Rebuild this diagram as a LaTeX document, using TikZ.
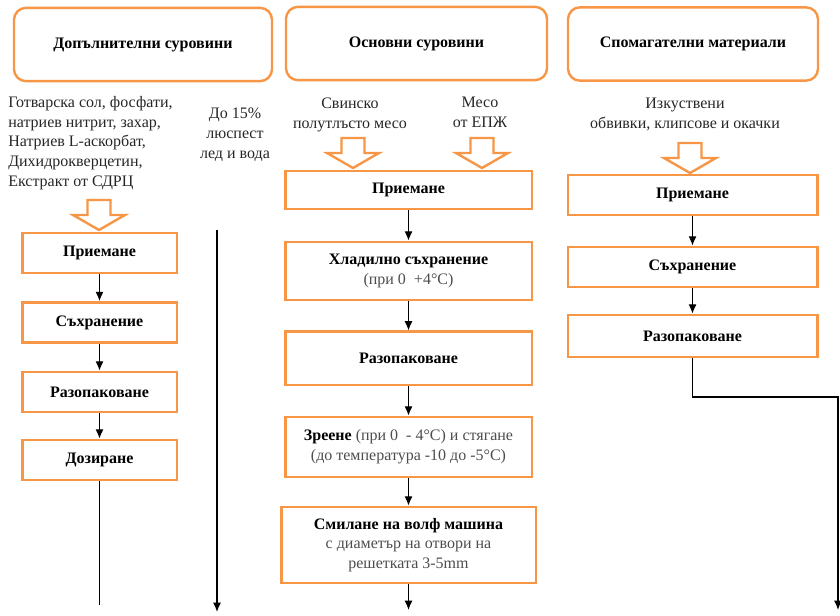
\documentclass[tikz,border=0pt]{standalone}
\usepackage{fontspec}
\setmainfont{Liberation Serif}
\usetikzlibrary{arrows.meta}
\definecolor{orng}{HTML}{F79646}
\definecolor{txt}{HTML}{262626}
\definecolor{note}{HTML}{4D4D4D}
\newcommand{\bodyfont}{\fontsize{12}{14.8}\selectfont}

\tikzset{
  hdr/.style={draw=orng, line width=1.8pt, rounded corners=9pt, minimum height=55pt, font=\bodyfont\bfseries, text=black},
  stepbox/.style={draw=orng, line width=2pt, align=center, inner sep=0pt, font=\bodyfont\bfseries, text=black},
  lbl/.style={align=center, inner sep=0pt, font=\bodyfont, text=txt},
  arr/.style={line width=1pt, -{Latex[length=7pt,width=6pt]}},
  feed/.pic={\draw[orng, line width=1.8pt, line join=miter] (-11.5,-30) -- (11.5,-30) -- (11.5,-15) -- (26,-15) -- (0,0) -- (-26,-15) -- (-11.5,-15) -- cycle;}
}

\begin{document}
\begin{tikzpicture}[x=0.75pt, y=-0.75pt]
\useasboundingbox (0,0) rectangle (840,616);

% column headers
\node[hdr, minimum width=193.5pt] (hL) at (143,44.5) {Допълнителни суровини};
\node[hdr, minimum width=195.75pt] (hM) at (416.5,43.5) {Основни суровини};
\node[hdr, minimum width=187.5pt] (hR) at (693,44) {Спомагателни материали};

% incoming materials
\node[lbl, align=left, anchor=north west] (addL) at (8,96) {Готварска сол, фосфати,\\натриев нитрит, захар,\\Натриев L-аскорбат,\\Дихидрокверцетин,\\Екстракт от СДРЦ};
\node[lbl, anchor=north] (iceL) at (235,108) {До 15\%\\люспест\\лед и вода};
\node[lbl, anchor=north] (porkM) at (350,98) {Свинско\\полутлъсто месо};
\node[lbl, anchor=north] (meatM) at (480,97) {Месо\\от ЕПЖ};
\node[lbl, anchor=north] (casR) at (685,98) {Изкуствени\\обвивки, клипсове и окачки};

\pic at (99,230) {feed};
\pic at (353,168) {feed};
\pic at (482,168) {feed};
\pic at (690,173) {feed};

% left column
\node[stepbox, minimum width=116pt, minimum height=30pt] (lA) at (99.5,253) {Приемане};
\node[stepbox, minimum width=116pt, minimum height=30pt] (lB) at (99.5,322.5) {Съхранение};
\node[stepbox, minimum width=116pt, minimum height=30pt] (lC) at (99.5,392) {Разопаковане};
\node[stepbox, minimum width=116pt, minimum height=30pt] (lD) at (99.5,460) {Дозиране};
\coordinate (lEnd) at (99.5,605);
\coordinate (iceTop) at (217,230);
\coordinate (iceEnd) at (217,612);

% middle column
\node[stepbox, minimum width=185pt, minimum height=28.5pt] (mA) at (408.5,190) {Приемане};
\node[stepbox, minimum width=185pt, minimum height=43.5pt] (mB) at (408.5,271) {Хладилно съхранение\\{\mdseries\color{note}(при 0 \ +4°C)}};
\node[stepbox, minimum width=185pt, minimum height=40pt] (mC) at (408.5,358.5) {Разопаковане};
\node[stepbox, minimum width=185pt, minimum height=45pt] (mD) at (408.5,447) {Зреене {\mdseries\color{note}(при 0 \ - 4°C) и стягане}\\{\mdseries\color{note}(до температура -10 до -5°C)}};
\node[stepbox, minimum width=191pt, minimum height=57pt] (mE) at (408.5,545) {Смилане на волф машина\\{\mdseries\color{note}с диаметър на отвори на}\\{\mdseries\color{note}решетката 3-5mm}};
\coordinate (mEnd) at (408.5,610);

% right column
\node[stepbox, minimum width=187pt, minimum height=30pt] (rA) at (692.5,195) {Приемане};
\node[stepbox, minimum width=187pt, minimum height=30pt] (rB) at (692.5,267) {Съхранение};
\node[stepbox, minimum width=187pt, minimum height=31.5pt] (rC) at (692.5,336) {Разопаковане};
\coordinate (rTurn) at (838,397);
\coordinate (rEnd) at (838,610);

% flow
\draw[arr] (lA.south) -- (lB.north);
\draw[arr] (lB.south) -- (lC.north);
\draw[arr] (lC.south) -- (lD.north);
\draw[line width=1pt] (lD.south) -- (lEnd);
\draw[arr] (iceTop) -- (iceEnd);
\draw[arr] (mA.south) -- (mB.north);
\draw[arr] (mB.south) -- (mC.north);
\draw[arr] (mC.south) -- (mD.north);
\draw[arr] (mD.south) -- (mE.north);
\draw[arr] (mE.south) -- (mEnd);
\draw[arr] (rA.south) -- (rB.north);
\draw[arr] (rB.south) -- (rC.north);
\draw[arr] (rC.south) |- (rTurn) -- (rEnd);
\end{tikzpicture}
\end{document}
